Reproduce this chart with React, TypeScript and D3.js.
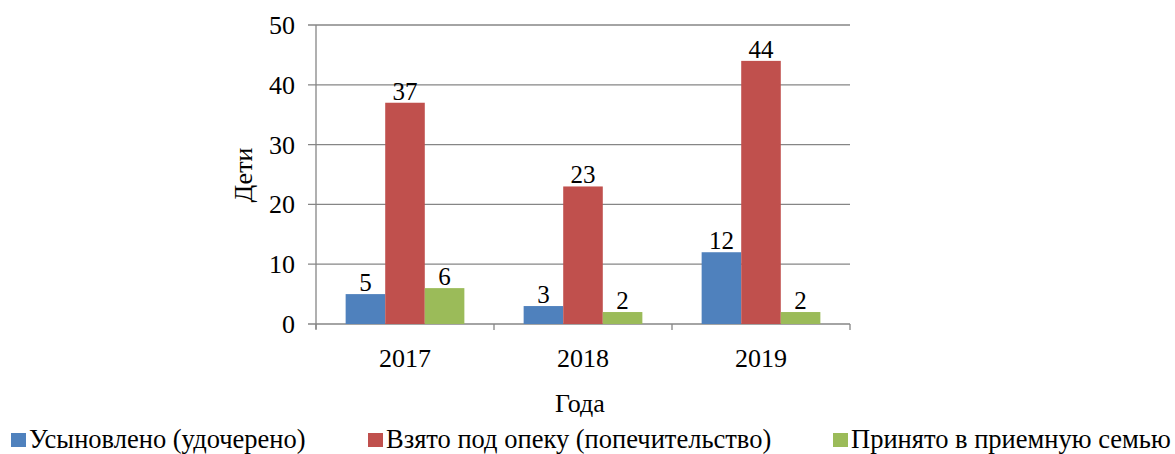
import React from "react";
import * as d3 from "d3";

const years = ["2017", "2018", "2019"];
const seriesNames = ["Усыновлено (удочерено)", "Взято под опеку (попечительство)", "Принято в приемную семью"];
const adopted = [5, 3, 12];
const guardianship = [37, 23, 44];
const foster = [6, 2, 2];
const colors = ["#4F81BD", "#C0504D", "#9BBB59"];
const yTicks = [0, 10, 20, 30, 40, 50];

const W = 1175, H = 454;
const left = 316, right = 850, top = 25, bottom = 324;
const font = "'Liberation Serif', 'Times New Roman', serif";
const legendX = [11, 368, 833];

export default function App() {
  const series = [adopted, guardianship, foster];
  const x = d3.scaleBand().domain(years).range([left, right]).paddingInner(0).paddingOuter(0);
  const y = d3.scaleLinear().domain([0, 50]).range([bottom, top]);
  const groupW = x.bandwidth() * 0.667;
  const xs = d3.scaleBand().domain(["0", "1", "2"]).range([0, groupW]);
  const grid = "#868686";
  const bounds = [...years.map((d) => x(d)!), right];

  return (
    <svg width={W} height={H} style={{ position: "absolute", left: 0, top: 0 }}>
      <rect width={W} height={H} fill="#fff" />
      {yTicks.map((t) => (
        <g key={t}>
          <line x1={left - 8} x2={right} y1={y(t)} y2={y(t)} stroke={grid} strokeWidth={1.3} />
          <text x={295} y={y(t) + 9} textAnchor="end" fontFamily={font} fontSize={26} fill="#000">{t}</text>
        </g>
      ))}
      <line x1={left} x2={left} y1={top} y2={bottom + 5} stroke={grid} strokeWidth={1.3} />
      {bounds.map((b, i) => (
        <line key={i} x1={b} x2={b} y1={bottom} y2={bottom + 6} stroke={grid} strokeWidth={1.3} />
      ))}
      {years.map((yr, i) => {
        const gx = x(yr)! + (x.bandwidth() - groupW) / 2;
        return (
          <g key={yr}>
            {series.map((s, j) => {
              const bx = gx + xs(String(j))!;
              return (
                <g key={j}>
                  <rect x={bx} y={y(s[i])} width={xs.bandwidth()} height={bottom - y(s[i])} fill={colors[j]} />
                  <text x={bx + xs.bandwidth() / 2} y={y(s[i]) - 3} textAnchor="middle" fontFamily={font} fontSize={25} fill="#000">{s[i]}</text>
                </g>
              );
            })}
            <text x={x(yr)! + x.bandwidth() / 2} y={367} textAnchor="middle" fontFamily={font} fontSize={26} fill="#000">{yr}</text>
          </g>
        );
      })}
      <text transform={`translate(252,175) rotate(-90)`} textAnchor="middle" fontFamily={font} fontSize={26} fill="#000">Дети</text>
      <text x={580} y={412} textAnchor="middle" fontFamily={font} fontSize={26} fill="#000">Года</text>
      {legendX.map((sx, i) => (
        <g key={i}>
          <rect x={sx} y={433} width={15} height={14} fill={colors[i]} />
          <text x={sx + 18} y={448} fontFamily={font} fontSize={26.5} fill="#000">{seriesNames[i]}</text>
        </g>
      ))}
    </svg>
  );
}
